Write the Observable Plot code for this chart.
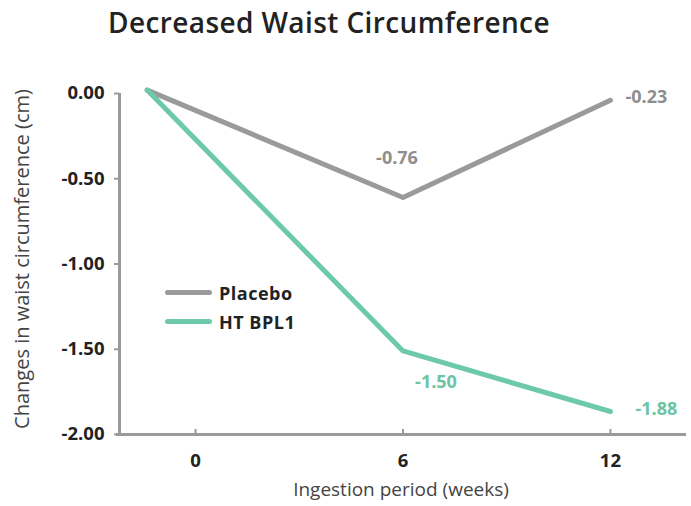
<!DOCTYPE html>
<html>
<head>
<meta charset="utf-8">
<script src="https://cdn.jsdelivr.net/npm/d3@7"></script>
<script src="https://cdn.jsdelivr.net/npm/@observablehq/plot@0.6"></script>
<style>
  body { margin: 0; background: #fff; }
  #wrap { position: relative; width: 691px; height: 506px; overflow: hidden; font-family: "Open Sans", sans-serif; }
  #title { position: relative; height: 50px; }
  #title span { position: absolute; left: 108px; top: 4px; line-height: 36px; font-size: 28px; font-weight: 600; letter-spacing: 0.4px; color: #222; white-space: nowrap; }
  #legend { position: absolute; left: 165px; top: 278px; }
  .item { display: flex; align-items: center; height: 29px; }
  .swatch { width: 47px; height: 5px; border-radius: 3px; margin-right: 7px; }
  .item span { font-size: 18px; font-weight: 700; letter-spacing: 0.5px; color: #222; }
</style>
</head>
<body>
<div id="wrap">
  <div id="title"><span>Decreased Waist Circumference</span></div>
  <div id="chart"></div>
  <div id="legend"></div>
</div>
<script>
// ---- data ----
const seriesNames = ["Placebo", "HT BPL1"];
const xValues = [-1.4, 6, 12];          // line starts just left of week 0
const placeboValues = [0.02, -0.61, -0.04];
const htValues = [0.02, -1.51, -1.865];
const placeboLabels = ["-0.76", "-0.23"];
const htLabels = ["-1.50", "-1.88"];
const xTicks = [0, 6, 12];
const yTicks = [0, -0.5, -1, -1.5, -2];
const xDomain = [-2.2, 14.2];
const yDomain = [-2, 0];
const yLabel = "Changes in waist circumference (cm)";
const xLabel = "Ingestion period (weeks)";

const colors = ["#9a9a9a", "#6ccaa8"];
const labelColors = ["#8e8e8e", "#6cc4a4"];

const rows = [];
seriesNames.forEach((s, si) => {
  const vals = si === 0 ? placeboValues : htValues;
  xValues.forEach((x, i) => rows.push({series: s, x, y: vals[i]}));
});
const placeboPts = rows.filter(d => d.series === "Placebo");
const htPts = rows.filter(d => d.series === "HT BPL1");

const valueStyle = {fontSize: 18, fontWeight: 700, style: "letter-spacing:1px"};

const chart = Plot.plot({
  width: 691,
  height: 456,
  marginLeft: 119,
  marginRight: 5,
  marginTop: 43,
  marginBottom: 72,
  style: {fontFamily: "'Open Sans', sans-serif", background: "transparent", overflow: "visible"},
  x: {domain: xDomain},
  y: {domain: yDomain},
  color: {domain: seriesNames, range: colors},
  marks: [
    // axes lines
    Plot.ruleY([yDomain[0]], {stroke: "#9a9a9a", strokeWidth: 3, insetLeft: -3}),
    Plot.ruleX([xDomain[0]], {y1: yDomain[0], y2: yDomain[1], stroke: "#9a9a9a", strokeWidth: 3}),
    // x tick marks pointing up
    Plot.ruleX(xTicks, {x: d => d, y1: yDomain[0], y2: yDomain[0], insetBottom: 5, stroke: "#9a9a9a", strokeWidth: 2}),
    Plot.axisY({ticks: yTicks, tickSize: 5, tickPadding: 10, tickFormat: d => d.toFixed(2), label: null,
      fontSize: 18.5, fontWeight: 700, fill: "#222", stroke: "#9a9a9a", strokeWidth: 2}),
    Plot.axisX({ticks: xTicks, tickSize: 0, tickPadding: 19, tickFormat: d => String(d), label: null,
      fontSize: 18.5, fontWeight: 700, fill: "#222"}),
    Plot.text([yLabel], {frameAnchor: "left", rotate: -90, textAnchor: "middle", dx: -97, dy: -5, fontSize: 20, fill: "#444", style: "letter-spacing:0.8px"}),
    Plot.text([xLabel], {frameAnchor: "bottom", dy: 61, dx: -2, fontSize: 19, fill: "#444", style: "letter-spacing:1.2px"}),
    // lines
    Plot.line(rows, {x: "x", y: "y", stroke: "series", z: "series", strokeWidth: 5, strokeLinejoin: "round", strokeLinecap: "round"}),
    // value labels
    Plot.text([placeboPts[1]], {x: "x", y: "y", text: () => placeboLabels[0], dx: -6, dy: -39, fill: labelColors[0], ...valueStyle}),
    Plot.text([placeboPts[2]], {x: "x", y: "y", text: () => placeboLabels[1], dx: 15, dy: -3, textAnchor: "start", fill: labelColors[0], ...valueStyle}),
    Plot.text([htPts[1]], {x: "x", y: "y", text: () => htLabels[0], dx: 33, dy: 31, fill: labelColors[1], ...valueStyle}),
    Plot.text([htPts[2]], {x: "x", y: "y", text: () => htLabels[1], dx: 25, dy: -2, textAnchor: "start", fill: labelColors[1], ...valueStyle})
  ]
});
document.getElementById("chart").appendChild(chart);

const legend = document.getElementById("legend");
seriesNames.forEach((s, i) => {
  const item = document.createElement("div");
  item.className = "item";
  const sw = document.createElement("div");
  sw.className = "swatch";
  sw.style.background = colors[i];
  const t = document.createElement("span");
  t.textContent = s;
  item.appendChild(sw);
  item.appendChild(t);
  legend.appendChild(item);
});
</script>
</body>
</html>
